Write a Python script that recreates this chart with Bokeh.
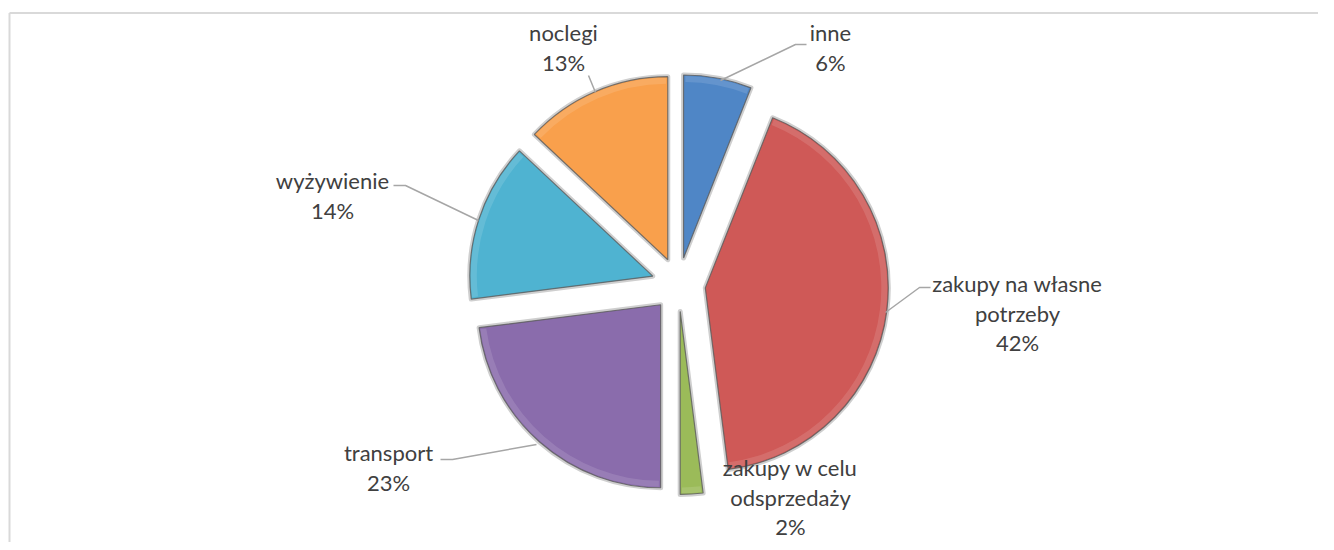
import math
from bokeh.plotting import figure
from bokeh.models import Range1d
from bokeh.core.properties import value
from bokeh.embed import file_html
from bokeh.resources import INLINE

# ---- data ----
categories = ["inne", "zakupy na własne\npotrzeby", "zakupy w celu\nodsprzedaży",
              "transport", "wyżywienie", "noclegi"]
shares = [6, 42, 2, 23, 14, 13]
colors = ["#4F86C6", "#CF5957", "#9BBB59", "#8A6CAC", "#4FB3D1", "#F9A04C"]

# ---- layout (picture pixel coordinates, y downward) ----
W, H = 1318, 542
CX, CY = 678, 284          # pie centre
R = 183                    # radius
EXPLODE = 27               # explosion distance

label_pos = [(830, 32), (1017, 283), (790, 467), (388, 452), (332, 180), (563, 32)]
LINE_STEP = 29.5
leaders = [
    [(720, 80), (795, 44), (806, 44)],
    [(885, 312), (919, 287), (930, 287)],
    None,
    [(536, 444), (452, 459), (440, 459)],
    [(478, 220), (405, 185), (393, 185)],
    [(595, 92), (588, 75)],
]


def Y(py):
    return H - py


p = figure(width=W, height=H, output_backend="svg", toolbar_location=None,
           x_range=Range1d(0, W), y_range=Range1d(0, H),
           x_axis_location=None, y_axis_location=None, min_border=0,
           outline_line_color=None, background_fill_color="white")
p.grid.visible = False

# chart frame (top and left edges visible)
p.line([9, W], [Y(12.5), Y(12.5)], line_color="#d9d9d9", line_width=2)
p.line([9, 9], [Y(12.5), Y(H)], line_color="#d9d9d9", line_width=2)

total = float(sum(shares))
cum = 0.0
for i, (cat, s, c) in enumerate(zip(categories, shares, colors)):
    t1 = cum / total * 360.0
    cum += s
    t2 = cum / total * 360.0
    mid = math.radians((t1 + t2) / 2)
    px = CX + EXPLODE * math.sin(mid)
    py = CY - EXPLODE * math.cos(mid)
    sa = math.radians(90 - t2)
    ea = math.radians(90 - t1)
    # rim
    p.wedge(x=[px], y=[Y(py)], radius=R, start_angle=sa, end_angle=ea,
            fill_color="#d6d6d6", line_color="#cfcfcf", line_width=5,
            line_join="round")
    # body
    p.wedge(x=[px], y=[Y(py)], radius=R, start_angle=sa, end_angle=ea,
            fill_color=c, line_color="#5a5a5a", line_width=1.2, line_alpha=0.8)
    # bevel highlight along the arc
    p.annular_wedge(x=[px], y=[Y(py)], inner_radius=R - 7, outer_radius=R - 1,
                    start_angle=sa + 0.01, end_angle=ea - 0.01,
                    fill_color="white", fill_alpha=0.12, line_color=None)

    lx, ly = label_pos[i]
    lines = cat.split("\n") + [f"{s}%"]
    for k, t in enumerate(lines):
        p.text(x=[lx], y=[Y(ly + k * LINE_STEP)], text=[t],
               text_align="center", text_baseline="middle",
               text_font=value("Lato"), text_font_size="22px",
               text_color="#404040")
    if leaders[i]:
        xs = [a for a, b in leaders[i]]
        ys = [Y(b) for a, b in leaders[i]]
        p.line(xs, ys, line_color="#a6a6a6", line_width=1.5)

open("out.html", "w").write(file_html(p, INLINE))
